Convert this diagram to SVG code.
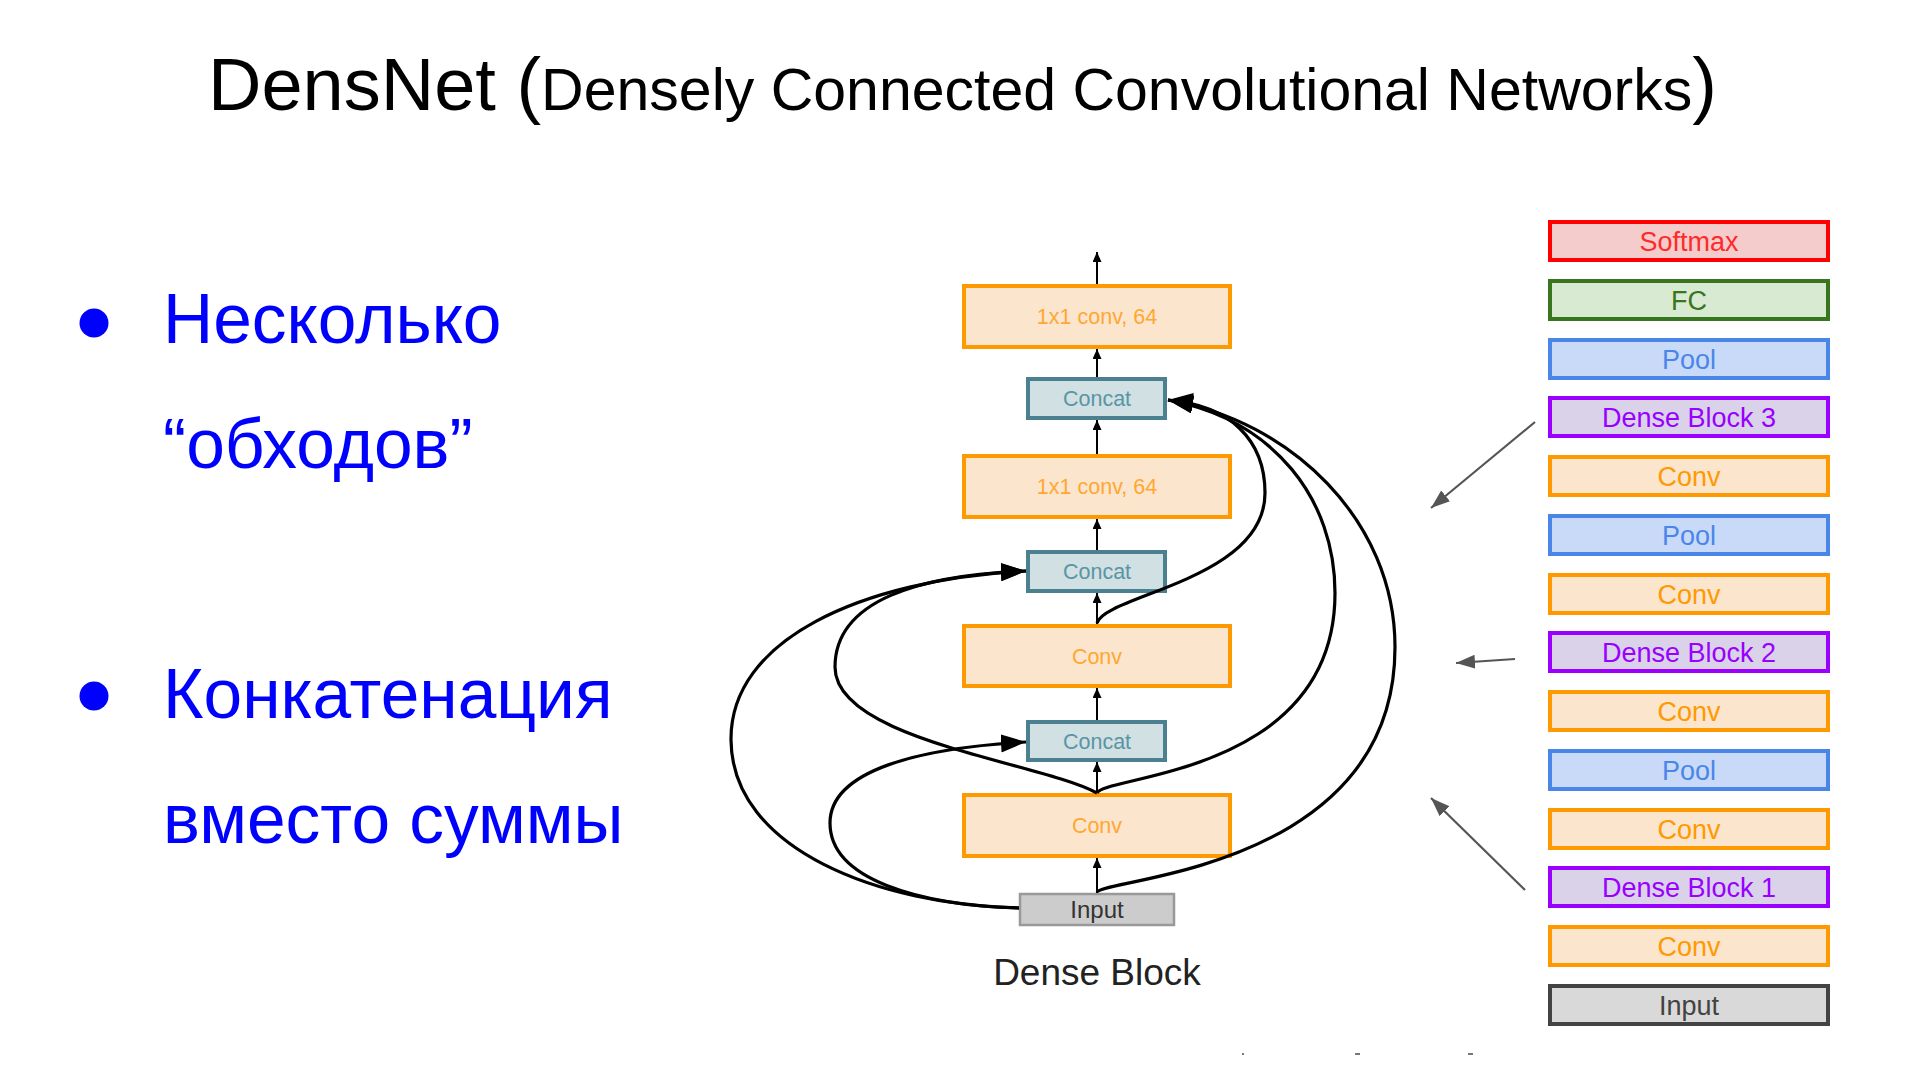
<svg xmlns="http://www.w3.org/2000/svg" width="1920" height="1065" viewBox="0 0 1920 1065">
<style>
  .t { font-family: "Liberation Sans", Arial, sans-serif; }
  .orange rect { fill: #FCE5CD; stroke: #FF9900; stroke-width: 4; }
  .orange text { fill: #FFA733; }
  .concat rect { fill: #D0E0E3; stroke: #4A8090; stroke-width: 4; }
  .concat text { fill: #5A95A3; }
  .input rect { fill: #CCCCCC; stroke: #999999; stroke-width: 2.5; }
  .input text { fill: #333333; }
  .db text { font-size: 21.5px; text-anchor: middle; }
  .col text { font-size: 27px; text-anchor: middle; }
  .col rect { stroke-width: 4; }
  .softmax rect { fill: #F4CCCC; stroke: #FF0000; } .softmax text { fill: #FF2A2A; }
  .fc rect { fill: #D9EAD3; stroke: #38761D; } .fc text { fill: #38761D; }
  .pool rect { fill: #C9DAF8; stroke: #4A86E8; } .pool text { fill: #4A86E8; }
  .dense rect { fill: #D9D2E9; stroke: #9900FF; } .dense text { fill: #9900FF; }
  .conv rect { fill: #FCE5CD; stroke: #FF9900; } .conv text { fill: #FF9900; }
  .inp rect { fill: #D9D9D9; stroke: #434343; } .inp text { fill: #434343; }
  .bullet { fill: #0000FF; font-size: 69.5px; }
  .curve { fill: none; stroke: #000; stroke-width: 3.2; }
  .vline { fill: none; stroke: #000; stroke-width: 2; }
  .gline { fill: none; stroke: #555; stroke-width: 2.2; }
</style>
<defs>
  <marker id="big" markerUnits="userSpaceOnUse" markerWidth="26" markerHeight="20" refX="25" refY="9" orient="auto">
    <path d="M0,0 L25,9 L0,18 z" fill="#000"/>
  </marker>
  <marker id="small" markerUnits="userSpaceOnUse" markerWidth="10" markerHeight="12" refX="10" refY="4.5" orient="auto">
    <path d="M0,0 L10,4.5 L0,9 z" fill="#000"/>
  </marker>
  <marker id="gray" markerUnits="userSpaceOnUse" markerWidth="20" markerHeight="16" refX="19" refY="7" orient="auto">
    <path d="M0,0 L19,7 L0,14 z" fill="#555"/>
  </marker>
</defs>
<rect width="1920" height="1065" fill="#FFFFFF"/>

<g id="title">
  <text class="t" x="208" y="110" font-size="74" fill="#000">DensNet (<tspan font-size="59">Densely Connected Convolutional Networks</tspan>)</text>
</g>

<g id="bullets" class="t">
  <circle cx="94" cy="323" r="14.5" fill="#0000FF"/>
  <text class="bullet" x="163" y="343">Несколько</text>
  <text class="bullet" x="163" y="468">“обходов”</text>
  <circle cx="94" cy="696" r="14.5" fill="#0000FF"/>
  <text class="bullet" x="163" y="718">Конкатенация</text>
  <text class="bullet" x="163" y="843">вместо суммы</text>
</g>

<g id="dense-block" class="t db">
  <g id="db-conv1x1-top" class="orange"><rect x="964" y="286" width="266" height="61"/><text x="1097" y="324">1x1 conv, 64</text></g>
  <g id="db-concat-1" class="concat"><rect x="1028" y="379" width="137" height="39"/><text x="1097" y="406">Concat</text></g>
  <g id="db-conv1x1-mid" class="orange"><rect x="964" y="456" width="266" height="61"/><text x="1097" y="494">1x1 conv, 64</text></g>
  <g id="db-concat-2" class="concat"><rect x="1028" y="552" width="137" height="39"/><text x="1097" y="579">Concat</text></g>
  <g id="db-conv-b" class="orange"><rect x="964" y="626" width="266" height="60"/><text x="1097" y="664">Conv</text></g>
  <g id="db-concat-3" class="concat"><rect x="1028" y="722" width="137" height="38"/><text x="1097" y="749">Concat</text></g>
  <g id="db-conv-a" class="orange"><rect x="964" y="795" width="266" height="61"/><text x="1097" y="833">Conv</text></g>
  <g id="db-input" class="input"><rect x="1020" y="894" width="154" height="31"/><text x="1097" y="918" style="font-size:24px">Input</text></g>
  <text x="1097" y="985" style="font-size:37px" fill="#222">Dense Block</text>
</g>

<g id="connectors">
  <path class="vline" d="M1097,284 L1097,252" marker-end="url(#small)"/>
  <path class="vline" d="M1097,377 L1097,349" marker-end="url(#small)"/>
  <path class="vline" d="M1097,454 L1097,420" marker-end="url(#small)"/>
  <path class="vline" d="M1097,550 L1097,519" marker-end="url(#small)"/>
  <path class="vline" d="M1097,624 L1097,593" marker-end="url(#small)"/>
  <path class="vline" d="M1097,720 L1097,688" marker-end="url(#small)"/>
  <path class="vline" d="M1097,793 L1097,762" marker-end="url(#small)"/>
  <path class="vline" d="M1097,893 L1097,858" marker-end="url(#small)"/>

  <path class="curve" d="M1019,908 C880,905 732,850 731,740 C730,640 860,580 1026,571" marker-end="url(#big)"/>
  <path class="curve" d="M1019,908 C920,905 830,880 830,823 C830,770 920,748 1026,742" marker-end="url(#big)"/>
  <path class="curve" d="M1097,793 C1040,762 835,740 835,667 C835,600 920,575 1026,571" marker-end="url(#big)"/>

  <path class="curve" d="M1097,623 C1105,595 1265,580 1265,493 C1265,440 1230,405 1168,400" marker-end="url(#big)"/>
  <path class="curve" d="M1097,793 C1105,775 1335,775 1335,593 C1335,500 1275,420 1168,400" marker-end="url(#big)"/>
  <path class="curve" d="M1097,892 C1105,878 1395,870 1395,647 C1395,520 1290,420 1168,400" marker-end="url(#big)"/>

  <path class="gline" d="M1535,422 L1431,508" marker-end="url(#gray)"/>
  <path class="gline" d="M1515,659 L1456,663" marker-end="url(#gray)"/>
  <path class="gline" d="M1525,890 L1431,798" marker-end="url(#gray)"/>
</g>

<g id="architecture" class="t col">
  <g id="arch-softmax" class="softmax"><rect x="1550" y="222" width="278" height="38"/><text x="1689" y="251">Softmax</text></g>
  <g id="arch-fc" class="fc"><rect x="1550" y="281" width="278" height="38"/><text x="1689" y="310">FC</text></g>
  <g id="arch-pool-3" class="pool"><rect x="1550" y="340" width="278" height="38"/><text x="1689" y="369">Pool</text></g>
  <g id="arch-dense-3" class="dense"><rect x="1550" y="398" width="278" height="38"/><text x="1689" y="427">Dense Block 3</text></g>
  <g id="arch-conv-5" class="conv"><rect x="1550" y="457" width="278" height="38"/><text x="1689" y="486">Conv</text></g>
  <g id="arch-pool-2" class="pool"><rect x="1550" y="516" width="278" height="38"/><text x="1689" y="545">Pool</text></g>
  <g id="arch-conv-4" class="conv"><rect x="1550" y="575" width="278" height="38"/><text x="1689" y="604">Conv</text></g>
  <g id="arch-dense-2" class="dense"><rect x="1550" y="633" width="278" height="38"/><text x="1689" y="662">Dense Block 2</text></g>
  <g id="arch-conv-3" class="conv"><rect x="1550" y="692" width="278" height="38"/><text x="1689" y="721">Conv</text></g>
  <g id="arch-pool-1" class="pool"><rect x="1550" y="751" width="278" height="38"/><text x="1689" y="780">Pool</text></g>
  <g id="arch-conv-2" class="conv"><rect x="1550" y="810" width="278" height="38"/><text x="1689" y="839">Conv</text></g>
  <g id="arch-dense-1" class="dense"><rect x="1550" y="868" width="278" height="38"/><text x="1689" y="897">Dense Block 1</text></g>
  <g id="arch-conv-1" class="conv"><rect x="1550" y="927" width="278" height="38"/><text x="1689" y="956">Conv</text></g>
  <g id="arch-input" class="inp"><rect x="1550" y="986" width="278" height="38"/><text x="1689" y="1015">Input</text></g>
</g>

<g id="marks" fill="#777">
  <rect x="1242" y="1053" width="2" height="2"/>
  <rect x="1355" y="1053" width="5" height="2"/>
  <rect x="1468" y="1053" width="5" height="2"/>
</g>
</svg>
